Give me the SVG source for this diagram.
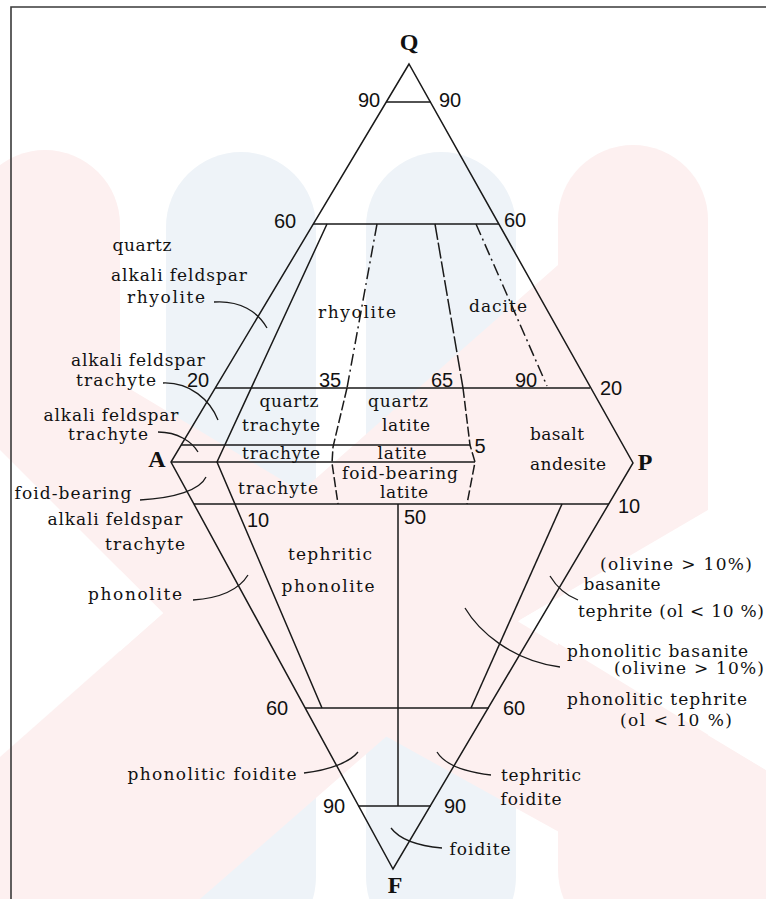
<svg xmlns="http://www.w3.org/2000/svg" width="766" height="899" viewBox="0 0 766 899">
<style>
.pk{fill:#fdf0f0}
.bl{fill:#eef3f8}
.ln{fill:none;stroke:#1a1a1a;stroke-width:1.5}
.th{fill:none;stroke:#1a1a1a;stroke-width:1.3}
.dd{stroke-dasharray:12 4 2 4}
.ds{stroke-dasharray:10 3}
.dl{stroke-dasharray:16 3}
.t{font-family:"DejaVu Serif","Liberation Serif",serif;font-size:17px;fill:#111;text-anchor:middle}
.ts{font-family:"DejaVu Serif","Liberation Serif",serif;font-size:17px;fill:#111;text-anchor:start}
.n{font-family:"Liberation Sans",Arial,sans-serif;font-size:20px;fill:#111;text-anchor:middle}
.v{font-family:"Liberation Serif",serif;font-weight:bold;font-size:24px;fill:#111;text-anchor:middle}
</style>
<rect width="766" height="899" fill="#fff"/>
<g id="watermark">
<rect class="bl" x="166" y="152" width="150" height="800" rx="75"/>
<rect class="bl" x="366" y="152" width="150" height="800" rx="75"/>
<rect class="pk" x="-30" y="150" width="150" height="800" rx="75"/>
<rect class="pk" x="558" y="145" width="150" height="800" rx="75"/>
<polygon class="pk" points="0,757 558,265 708,265 708,510 520,620 200,899 0,899"/>
<polygon class="pk" points="0,330 120,383 766,770 766,899 680,899 163,613 0,450"/>
<polygon fill="#fff" points="0,450 163,613 0,757"/>
<polygon fill="#fff" points="520,620 766,476 766,770"/>
</g>
<g id="frame">
<path d="M11,899 V7 H766" fill="none" stroke="#3a3a3a" stroke-width="1.6"/>
</g>
<g id="connectors">
<path class="ln" d="M409,64 L171,462 L393,869 L633,463 Z"/>
<path class="ln" d="M386,102 H431 M313,224 H499 M215,388 H590 M181,445 H470 M171,462 H475 M194,504 H609 M305,708 H489 M358,806 H431 M398,504 V806"/>
<path class="ln" d="M327,224 L217,462 L322,708"/>
<path class="ln dd" d="M377,224 L347,388"/>
<path class="ln ds" d="M347,388 L333,447 L332,463 L338,504"/>
<path class="ln dl" d="M435,224 L463,388"/>
<path class="ln ds" d="M463,388 L470,445 L475,462 L467,504"/>
<path class="ln dd" d="M476,224 L547,386"/>
<path class="ln" d="M562,504 L471,708"/>
<path class="th" d="M214,302 C240,300 258,312 267,328"/>
<path class="th" d="M163,383 C190,382 210,400 218,420"/>
<path class="th" d="M158,432 C178,432 192,442 198,452"/>
<path class="th" d="M140,500 C175,498 200,490 206,477"/>
<path class="th" d="M193,600 C222,598 240,588 248,575"/>
<path class="th" d="M304,773 C330,770 350,762 358,752"/>
<path class="th" d="M491,775 C465,772 445,765 437,752"/>
<path class="th" d="M442,848 C420,846 400,840 391,828"/>
<path class="th" d="M550,576 C556,586 565,595 578,600"/>
<path class="th" d="M465,608 C478,630 510,660 560,667"/>
</g>
<g id="vertices">
<text class="v" x="409" y="50">Q</text>
<text class="v" x="157" y="467">A</text>
<text class="v" x="645" y="470">P</text>
<text class="v" x="395" y="893">F</text>
</g>
<g id="ticks">
<text class="n" x="369" y="107">90</text>
<text class="n" x="450" y="107">90</text>
<text class="n" x="285" y="228">60</text>
<text class="n" x="515" y="227">60</text>
<text class="n" x="198" y="387">20</text>
<text class="n" x="330" y="387">35</text>
<text class="n" x="442" y="387">65</text>
<text class="n" x="526" y="387">90</text>
<text class="n" x="611" y="395">20</text>
<text class="n" x="480" y="453">5</text>
<text class="n" x="258" y="527">10</text>
<text class="n" x="415" y="524">50</text>
<text class="n" x="629" y="513">10</text>
<text class="n" x="277" y="715">60</text>
<text class="n" x="514" y="715">60</text>
<text class="n" x="334" y="813">90</text>
<text class="n" x="455" y="813">90</text>
</g>
<g id="quartz-alkali-feldspar-rhyolite">
<text class="t" x="142" y="251" textLength="59">quartz</text>
<text class="t" x="179" y="281" textLength="136">alkali feldspar</text>
<text class="t" x="166" y="303" textLength="78">rhyolite</text>
</g>
<g id="rhyolite"><text class="t" x="357" y="318" textLength="78">rhyolite</text></g>
<g id="dacite"><text class="t" x="498" y="312" textLength="58">dacite</text></g>
<g id="quartz-alkali-feldspar-trachyte">
<text class="t" x="138" y="366" textLength="134">alkali feldspar</text>
<text class="t" x="116" y="386" textLength="80">trachyte</text>
</g>
<g id="quartz-trachyte">
<text class="t" x="289" y="407" textLength="59">quartz</text>
<text class="t" x="281" y="431" textLength="78">trachyte</text>
</g>
<g id="quartz-latite">
<text class="t" x="398" y="407" textLength="60">quartz</text>
<text class="t" x="406" y="431" textLength="48">latite</text>
</g>
<g id="alkali-feldspar-trachyte">
<text class="t" x="111" y="421" textLength="135">alkali feldspar</text>
<text class="t" x="108" y="440" textLength="80">trachyte</text>
</g>
<g id="trachyte"><text class="t" x="281" y="459" textLength="78">trachyte</text></g>
<g id="latite"><text class="t" x="402" y="459" textLength="49">latite</text></g>
<g id="basalt-andesite">
<text class="t" x="557" y="440" textLength="54">basalt</text>
<text class="t" x="568" y="470" textLength="76">andesite</text>
</g>
<g id="foid-bearing-latite">
<text class="t" x="400" y="479" textLength="116">foid-bearing</text>
<text class="t" x="404" y="498" textLength="48">latite</text>
</g>
<g id="foid-bearing-trachyte"><text class="t" x="278" y="494" textLength="80">trachyte</text></g>
<g id="foid-bearing-alkali-feldspar-trachyte">
<text class="t" x="73" y="499" textLength="117">foid-bearing</text>
<text class="t" x="115" y="525" textLength="135">alkali feldspar</text>
<text class="t" x="145" y="550" textLength="80">trachyte</text>
</g>
<g id="phonolite"><text class="t" x="135" y="600" textLength="94">phonolite</text></g>
<g id="tephritic-phonolite">
<text class="t" x="330" y="560" textLength="84">tephritic</text>
<text class="t" x="328" y="592" textLength="93">phonolite</text>
</g>
<g id="basanite-tephrite">
<text class="t" x="676" y="570" textLength="152">(olivine &gt; 10%)</text>
<text class="t" x="622" y="590" textLength="77">basanite</text>
<text class="ts" x="578" y="617" textLength="186">tephrite (ol &lt; 10 %)</text>
</g>
<g id="phonolitic-basanite-tephrite">
<text class="ts" x="567" y="657" textLength="181">phonolitic basanite</text>
<text class="ts" x="614" y="674" textLength="150">(olivine &gt; 10%)</text>
<text class="ts" x="567" y="705" textLength="180">phonolitic tephrite</text>
<text class="ts" x="620" y="726" textLength="112">(ol &lt; 10 %)</text>
</g>
<g id="phonolitic-foidite"><text class="t" x="212" y="780" textLength="169">phonolitic foidite</text></g>
<g id="tephritic-foidite">
<text class="t" x="541" y="781" textLength="80">tephritic</text>
<text class="t" x="531" y="805" textLength="61">foidite</text>
</g>
<g id="foidite"><text class="t" x="480" y="855" textLength="61">foidite</text></g>
</svg>
